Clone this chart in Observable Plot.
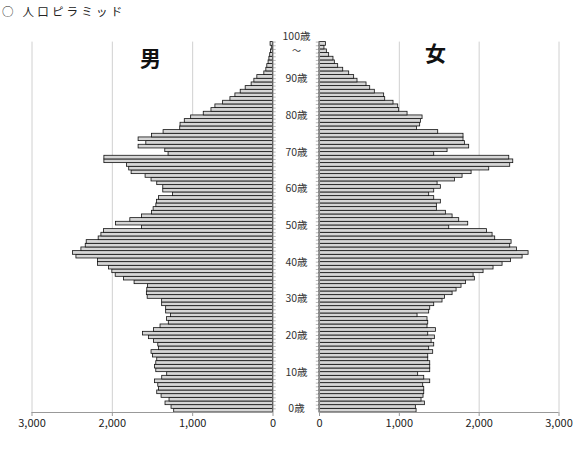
<!DOCTYPE html>
<html>
<head>
<meta charset="utf-8">
<script src="https://cdn.jsdelivr.net/npm/d3@7"></script>
<script src="https://cdn.jsdelivr.net/npm/@observablehq/plot@0.6"></script>
<style>
  html, body { margin: 0; padding: 0; background: #fff; }
  #wrap { position: relative; width: 574px; height: 455px; overflow: hidden; }
  #title { position: absolute; left: 2px; top: 3px; font: 11.5px 'Noto Sans CJK JP', sans-serif; letter-spacing: 3.2px; color: #222; white-space: pre; }
  #left, #right { position: absolute; top: 0; }
  #left { left: 0; }
  #right { left: 274px; }
</style>
</head>
<body>
<div id="wrap">
  <div id="title">○ 人口ピラミッド</div>
  <div id="left"></div>
  <div id="right"></div>
</div>
<script>
// ages 0..100 (100 = 100歳以上)
const ages = d3.range(0, 101);
const male = [
  1230, 1263, 1338, 1288, 1387, 1441, 1420, 1428, 1470, 1379,
  1317, 1453, 1470, 1453, 1441, 1495, 1512, 1420, 1428, 1482,
  1545, 1619, 1482, 1400, 1297, 1320, 1270, 1330, 1330, 1380,
  1380, 1560, 1570, 1565, 1557, 1723, 1855, 1958, 2000, 2042,
  2178, 2178, 2447, 2489, 2385, 2331, 2319, 2170, 2136, 2104,
  1631, 1954, 1776, 1631, 1507, 1486, 1452, 1444, 1420, 1246,
  1366, 1366, 1441, 1512, 1586, 1760, 1790, 1817, 2099, 2099,
  1300, 1341, 1673, 1577, 1673, 1507, 1362, 1155, 1151, 1098,
  1019, 862, 766, 717, 621, 530, 468, 402, 340, 266,
  232, 195, 108, 83, 71, 55, 45, 35, 25, 15,
  30
];
const female = [
  1216, 1207, 1320, 1278, 1303, 1312, 1312, 1299, 1387, 1312,
  1236, 1387, 1387, 1387, 1362, 1362, 1424, 1374, 1437, 1404,
  1445, 1362, 1458, 1353, 1362, 1353, 1228, 1374, 1387, 1437,
  1541, 1571, 1667, 1717, 1779, 1834, 1946, 1930, 2055, 2180,
  2293, 2398, 2544, 2619, 2473, 2389, 2406, 2201, 2168, 2097,
  1625, 1863, 1750, 1667, 1583, 1470, 1470, 1520, 1437, 1374,
  1437, 1520, 1479, 1696, 1792, 1905, 2126, 2389, 2427, 2377,
  1437, 1604, 1875, 1821, 1804, 1804, 1487, 1220, 1261, 1270,
  1291, 1103, 998, 986, 927, 823, 810, 693, 635, 589,
  476, 434, 372, 297, 234, 192, 175, 121, 92, 62,
  80
];
const ageTicks = [0, 10, 20, 30, 40, 50, 60, 70, 80, 90];
const topLabel = ["100歳", "～"];
const xTicks = [0, 1000, 2000, 3000];
const gridTicks = [1000, 2000, 3000];

const maleData = ages.map((a, i) => ({age: a, value: male[i]}));
const femaleData = ages.map((a, i) => ({age: a, value: female[i]}));

const H = 455, MT = 41.6, MB = 43;
const bw = (H - MT - MB) / ages.length;
const yScale = {domain: d3.range(100, -1, -1), padding: 0, axis: null};
const fmt = d3.format(",");
const font = "'Noto Sans CJK JP', 'Noto Sans', sans-serif";
const barStyle = {fill: "#d6d6d6", stroke: "#111", strokeWidth: 0.8};
const axisStyle = {ticks: xTicks, tickFormat: fmt, tickSize: 4, tickPadding: 3, fontSize: 11, stroke: "#999", fill: "#222", label: null};

const left = Plot.plot({
  width: 290, height: H,
  marginLeft: 31.5, marginRight: 17.5, marginTop: MT, marginBottom: MB,
  style: {background: "transparent", fontFamily: font, overflow: "visible"},
  x: {domain: [0, 3000], reverse: true, axis: null, label: null},
  y: yScale,
  marks: [
    Plot.ruleX(gridTicks, {stroke: "#d0d0d0"}),
    Plot.barX(maleData, {y: "age", x: "value", ...barStyle}),
    Plot.ruleY(ages, {y: d => d, x1: 0, x2: -40, dy: -bw / 2, stroke: "#888", strokeWidth: 0.6}),
    Plot.ruleX([0], {stroke: "#888"}),
    Plot.ruleY([0], {dy: bw / 2, stroke: "#999"}),
    Plot.axisX(axisStyle),
    Plot.text(["男"], {text: d => d, frameAnchor: "top", dx: -2, dy: 8.5, fontSize: 21, fontWeight: "bold", fill: "#111"})
  ]
});

const right = Plot.plot({
  width: 300, height: H,
  marginLeft: 45, marginRight: 15.5, marginTop: MT, marginBottom: MB,
  style: {background: "transparent", fontFamily: font, overflow: "visible"},
  x: {domain: [0, 3000], axis: null, label: null},
  y: yScale,
  marks: [
    Plot.ruleX(gridTicks, {stroke: "#d0d0d0"}),
    Plot.barX(femaleData, {y: "age", x: "value", ...barStyle}),
    Plot.ruleY(ages, {y: d => d, x1: 0, x2: -40, dy: -bw / 2, stroke: "#888", strokeWidth: 0.6}),
    Plot.ruleX([0], {stroke: "#888"}),
    Plot.ruleY([0], {dy: bw / 2, stroke: "#999"}),
    Plot.axisX(axisStyle),
    Plot.text(ageTicks, {y: d => d, text: d => `${d}歳`, frameAnchor: "left", dx: -23, dy: -1.8, textAnchor: "middle", fontSize: 10.5, fill: "#333"}),
    Plot.text([topLabel[0]], {y: () => 100, text: d => d, frameAnchor: "left", dx: -23, dy: -7.5, textAnchor: "middle", fontSize: 10.5, fill: "#333"}),
    Plot.text([topLabel[1]], {y: () => 100, text: d => d, frameAnchor: "left", dx: -23, dy: 7.5, textAnchor: "middle", fontSize: 9, fill: "#333"}),
    Plot.text(["女"], {text: d => d, frameAnchor: "top", dx: -3.7, dy: 4, fontSize: 21, fontWeight: "bold", fill: "#111"})
  ]
});

document.getElementById("left").appendChild(left);
document.getElementById("right").appendChild(right);
</script>
</body>
</html>
